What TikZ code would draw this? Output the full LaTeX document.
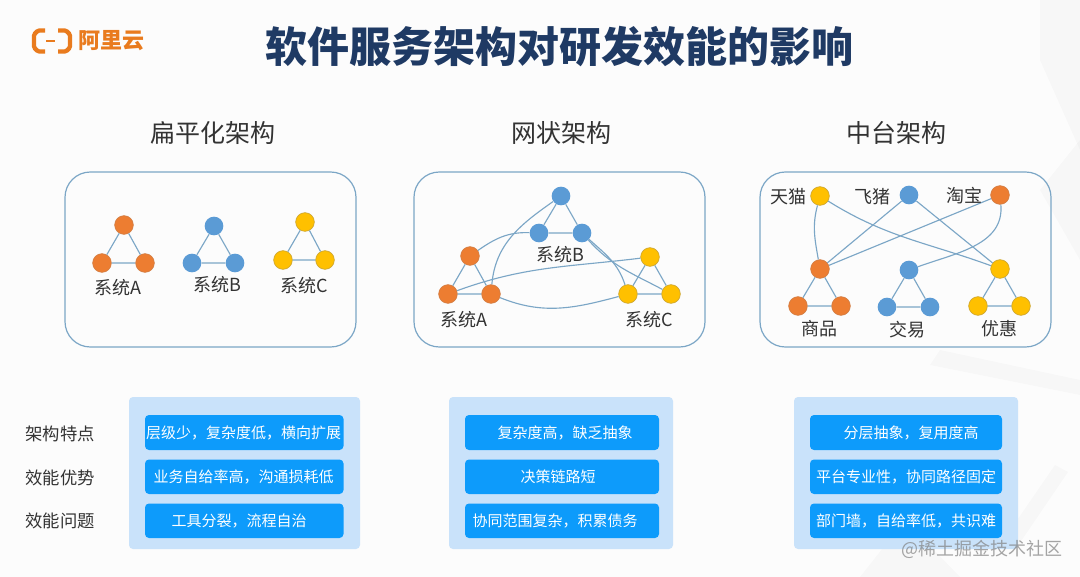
\documentclass[tikz,border=0pt]{standalone}
\usepackage{fontspec}
\setmainfont{Noto Sans CJK SC}
\usetikzlibrary{positioning}
\definecolor{titleBlue}{HTML}{1F3A64}
\definecolor{logoOrange}{HTML}{E97B1E}
\definecolor{dotOrange}{HTML}{ED7D31}
\definecolor{dotBlue}{HTML}{5B9BD5}
\definecolor{dotYellow}{HTML}{FFC000}
\definecolor{lineBlue}{HTML}{7BA6C6}
\definecolor{panelBlue}{HTML}{C9E2FA}
\definecolor{barBlue}{HTML}{0D9BFB}
\definecolor{textGrey}{HTML}{333333}

\begin{document}
\begin{tikzpicture}
[x=0.75pt,y=-0.75pt,
  titleText/.style={font=\fontsize{31.5}{36}\selectfont\bfseries,text=titleBlue},
  logoText/.style={font=\fontsize{16.5}{20}\selectfont\bfseries,text=logoOrange},
  headText/.style={font=\fontsize{18.75}{22}\selectfont,text=textGrey},
  sysText/.style={font=\fontsize{13.5}{16}\selectfont,text=textGrey},
  rowText/.style={font=\fontsize{13}{16}\selectfont,text=textGrey},
  barText/.style={font=\fontsize{11.25}{14}\selectfont,text=white},
  markText/.style={font=\fontsize{13.5}{16}\selectfont,text=gray,opacity=0.7},
  logoStroke/.style={draw=logoOrange,line width=3.2pt,rounded corners=1pt},
  panelBox/.style={draw=lineBlue,line width=0.9pt,rounded corners=19pt},
  panelBack/.style={fill=panelBlue,rounded corners=3pt},
  barBox/.style={fill=barBlue,rounded corners=3pt},
  linkLine/.style={draw=lineBlue,line width=0.85pt},
  dotNode/.style={circle,minimum size=14pt,inner sep=0pt},
  orangeDot/.style={dotNode,fill=dotOrange,draw=dotOrange!75!gray,line width=0.5pt},
  blueDot/.style={dotNode,fill=dotBlue},
  yellowDot/.style={dotNode,fill=dotYellow,draw=dotYellow!60!gray,line width=0.5pt},
  backStreak/.style={fill=black,opacity=0.018}]
\useasboundingbox (0,0) rectangle (1080,577);
\fill[white!99!black] (0,0) rectangle (1080,577);
%% faint streaks of the slide background
\fill[backStreak] (1040,0) -- (1080,0) -- (1080,150) -- (1040,60) -- cycle;
\fill[backStreak] (1040,190) -- (1080,140) -- (1080,260) -- cycle;
\fill[backStreak] (1055,465) -- (1068,472) -- (1015,550) -- (1000,545) -- cycle;
\fill[backStreak] (860,577) -- (905,520) -- (960,577) -- cycle;
\fill[backStreak] (940,350) -- (1080,380) -- (1080,395) -- (930,365) -- cycle;
%% logo
\draw[logoStroke] (45,30.5) -- (38,30.5) -- (34,34.5) -- (34,47.5) -- (38,51.5) -- (45,51.5);
\draw[logoStroke] (58,30.5) -- (66,30.5) -- (70,34.5) -- (70,47.5) -- (66,51.5) -- (58,51.5);
\draw[draw=logoOrange,line width=1pt] (46,41) -- (55,41);
\node[logoText] (logoName) at (111.5,41) {阿里云};
%% titles
\node[titleText] (mainTitle) at (559,47) {软件服务架构对研发效能的影响};
\node[headText] (flatHead) at (213,133) {扁平化架构};
\node[headText] (meshHead) at (561,133) {网状架构};
\node[headText] (midHead) at (896,133) {中台架构};
%% outer boxes of the three diagrams
\draw[panelBox] (65,172) rectangle (356,347);
\draw[panelBox] (414,172) rectangle (705,347);
\draw[panelBox] (760,172) rectangle (1051,347);
%% flat architecture
\foreach \nodename/\x/\y/\dotstyle in {fa1/124/225/orangeDot, fa2/102/263/orangeDot,
  fa3/145/263/orangeDot, fb1/214/226/blueDot, fb2/192/263/blueDot, fb3/235/263/blueDot,
  fc1/305/222/yellowDot, fc2/283/260/yellowDot, fc3/325/260/yellowDot,
  %% mesh architecture
  ma1/470/256/orangeDot, ma2/448/294/orangeDot, ma3/491/294/orangeDot,
  mb1/561/196/blueDot, mb2/539/233/blueDot, mb3/582/233/blueDot,
  mc1/650/257/yellowDot, mc2/628/294/yellowDot, mc3/671/294/yellowDot,
  %% middle platform architecture
  tmall/820/196/yellowDot, feizhu/909/195/blueDot, taobao/1000/195/orangeDot,
  ga1/820/269/orangeDot, ga2/798/306/orangeDot, ga3/841/306/orangeDot,
  gb1/909/270/blueDot, gb2/887/307/blueDot, gb3/930/307/blueDot,
  gc1/1000/269/yellowDot, gc2/978/306/yellowDot, gc3/1021/306/yellowDot}
{
  \node[\dotstyle] (\nodename) at (\x,\y) {};
}
%% triangles
\foreach \tri in {fa,fb,fc,ma,mb,mc,ga,gb,gc}
{
  \draw[linkLine] (\tri1) -- (\tri2) -- (\tri3) -- (\tri1);
}
%% mesh links
\draw[linkLine] (ma1) to[out=35,in=178] (mb2);
\draw[linkLine] (mb1) to[out=215,in=85] (ma3);
\draw[linkLine] (ma2) to[out=20,in=187] (mc1);
\draw[linkLine] (ma3) to[out=-22,in=195] (mc2);
\draw[linkLine] (mb3) to[out=-42,in=108] (mc2);
\draw[linkLine] (mb3) to[out=-48,in=152] (mc3);
%% middle platform links
\draw[linkLine] (tmall) to[out=-105,in=100] (ga1);
\draw[linkLine] (tmall) to[out=-32,in=160] (gc1);
\draw[linkLine] (feizhu) -- (ga1);
\draw[linkLine] (feizhu) -- (gc1);
\draw[linkLine] (taobao) -- (ga1);
\draw[linkLine] (taobao) to[out=-85,in=20] (gb1);
%% labels of the diagrams
\foreach \nodename/\x/\y/\txt in {laA/118/288/系统A, laB/217/285/系统B, laC/304/286/系统C,
  lbB/560/255/系统B, lbA/464/320/系统A, lbC/649/320/系统C,
  lcT/788/197/天猫, lcF/872/197/飞猪, lcB/964/196/淘宝,
  lcG/819/329/商品, lcJ/907/330/交易, lcY/999/329/优惠}
{
  \node[sysText] (\nodename) at (\x,\y) {\txt};
}
%% lower panels
\fill[panelBack] (129,397) rectangle (360,549);
\fill[panelBack] (449,397) rectangle (673,549);
\fill[panelBack] (794,397) rectangle (1018,549);
\foreach \xa/\xb in {145/343.5,465/659,810/1002}
{
  \fill[barBox] (\xa,415) rectangle (\xb,450);
  \fill[barBox] (\xa,459.5) rectangle (\xb,494);
  \fill[barBox] (\xa,503.5) rectangle (\xb,538);
}
\node[rowText] (rowOne) at (60,434) {架构特点};
\node[rowText] (rowTwo) at (60,478) {效能优势};
\node[rowText] (rowThree) at (60,521) {效能问题};
\foreach \nodename/\x/\y/\txt in {
  t1/243.5/433/层级少，复杂度低，横向扩展, t2/243.5/477/业务自给率高，沟通损耗低, t3/239/521/工具分裂，流程自治,
  t4/565/433/复杂度高，缺乏抽象, t5/558/477/决策链路短, t6/555/521/协同范围复杂，积累债务,
  t7/911/433/分层抽象，复用度高, t8/906/477/平台专业性，协同路径固定, t9/906/521/部门墙，自给率低，共识难}
{
  \node[barText] (\nodename) at (\x,\y) {\txt};
}
%% site mark
\node[markText] (siteMark) at (982,549) {@稀土掘金技术社区};
\end{tikzpicture}
\end{document}
